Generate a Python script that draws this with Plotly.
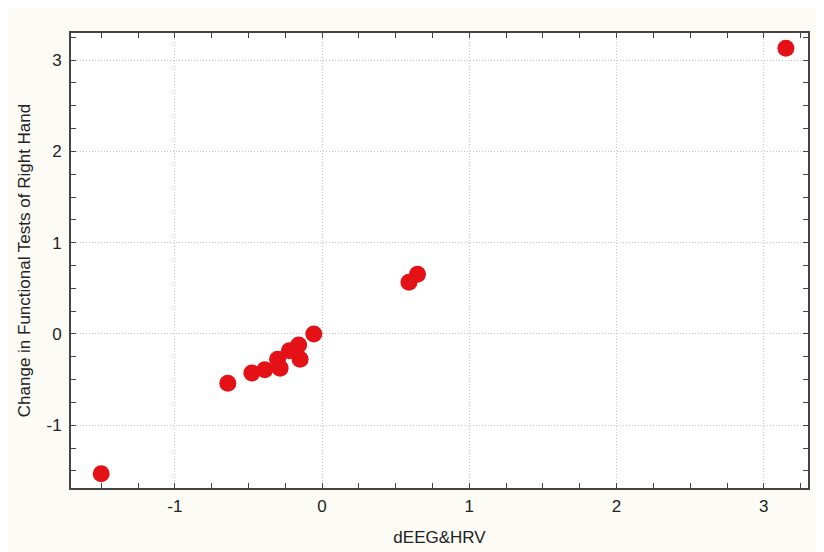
import plotly.graph_objects as go

x_deeg_hrv = [-1.50, -0.64, -0.477, -0.389, -0.302, -0.285, -0.222, -0.159, -0.149, -0.056, 0.590, 0.648, 3.15]
y_change = [-1.53, -0.540, -0.427, -0.391, -0.277, -0.374, -0.183, -0.120, -0.277, 0.0, 0.567, 0.655, 3.13]

x_ticks = [-1, 0, 1, 2, 3]
y_ticks = [-1, 0, 1, 2, 3]

fig = go.Figure()
fig.add_trace(go.Scatter(
    x=x_deeg_hrv, y=y_change, mode="markers",
    marker=dict(size=17, color="rgb(228,18,22)", line=dict(width=0)),
    showlegend=False,
))

font = dict(family="Liberation Sans, Arial, sans-serif", size=17, color="#222222")
axis_common = dict(
    showline=True, linecolor="#444444", linewidth=2, mirror="ticks",
    ticks="inside", ticklen=5, tickcolor="#444444", tickwidth=1,
    showgrid=True, gridcolor="#c4c4c4", griddash="1px,2px", gridwidth=1,
    zeroline=False, tickfont=font, automargin=False,
    minor=dict(dtick=0.25, ticks="inside", ticklen=5, tickcolor="#444444", showgrid=False),
)

fig.update_xaxes(range=[-1.705, 3.30], tickvals=x_ticks, ticktext=[str(v) for v in x_ticks],
                 ticklabelstandoff=2,
                 title=dict(text="dEEG&HRV", font=font, standoff=16), **axis_common)
fig.update_yaxes(range=[-1.687, 3.297], tickvals=y_ticks, ticktext=[str(v) for v in y_ticks],
                 ticklabelstandoff=4,
                 title=dict(text="Change in Functional Tests of Right Hand", font=font, standoff=12), **axis_common)

fig.update_layout(
    width=816, height=544,
    margin=dict(l=63, r=16, t=25, b=64),
    paper_bgcolor="#fcfbf5", plot_bgcolor="#ffffff",
    font=font,
)

fig.write_html("out.html")
